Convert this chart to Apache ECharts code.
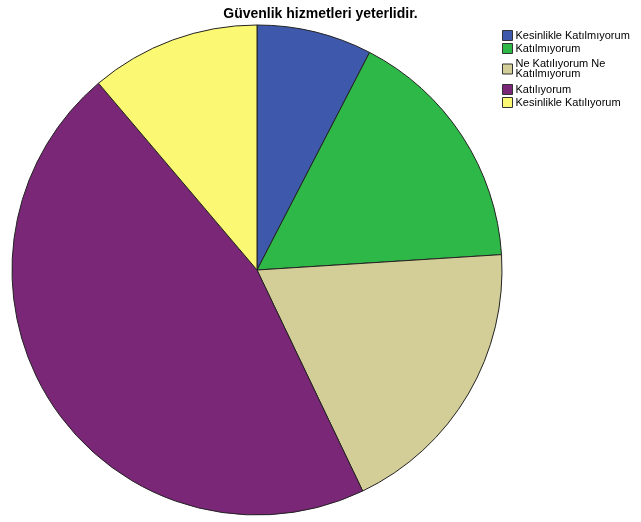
<!DOCTYPE html>
<html>
<head>
<meta charset="utf-8">
<script src="https://cdn.jsdelivr.net/npm/echarts@6/dist/echarts.min.js"></script>
<style>
  html, body { margin: 0; padding: 0; background: #fff; }
  #chart { width: 641px; height: 522px; }
</style>
</head>
<body>
<div id="chart"></div>
<script>
// kategoriler ve yuzdeler
var categories = ['Kesinlikle Katılmıyorum', 'Katılmıyorum', 'Ne Katılıyorum Ne\nKatılmıyorum', 'Katılıyorum', 'Kesinlikle Katılıyorum'];
var percents = [7.6, 16.4, 18.9, 45.9, 11.2];
var colors = ['#3E58AC', '#2EB848', '#D3CE97', '#7B2777', '#FBF873'];

var myChart = echarts.init(document.getElementById('chart'));

var data = categories.map(function (c, i) {
    return { name: c, value: percents[i], itemStyle: { color: colors[i] } };
});

// legend ogeleri, iki satirli olan icin biraz bosluk
var legendData = categories.map(function (c) {
    if (c.indexOf('\n') >= 0) {
        return { name: c, textStyle: { lineHeight: 10, padding: [3, 0, 3, -2] } };
    }
    return { name: c };
});

var option = {
    animation: false,
    title: {
        text: 'Güvenlik hizmetleri yeterlidir.',
        left: 'center',
        top: 2,
        textStyle: { fontFamily: 'Arial, Liberation Sans', fontSize: 14, fontWeight: 'bold', color: '#000' }
    },
    legend: {
        orient: 'vertical',
        left: 497,
        top: 25,
        itemWidth: 10,
        itemHeight: 10,
        itemGap: 2,
        icon: 'rect',
        selectedMode: false,
        itemStyle: { borderColor: '#333', borderWidth: 1 },
        textStyle: { fontFamily: 'Arial, Liberation Sans', fontSize: 11, color: '#000', lineHeight: 11, padding: [0, 0, 0, -2] },
        data: legendData
    },
    series: [{
        type: 'pie',
        center: [257, 270],
        radius: [0, 245],
        startAngle: 90,
        clockwise: true,
        label: { show: false },
        labelLine: { show: false },
        emphasis: { disabled: true },
        itemStyle: { borderColor: '#222', borderWidth: 1 },
        data: data
    }]
};
myChart.setOption(option);
</script>
</body>
</html>
